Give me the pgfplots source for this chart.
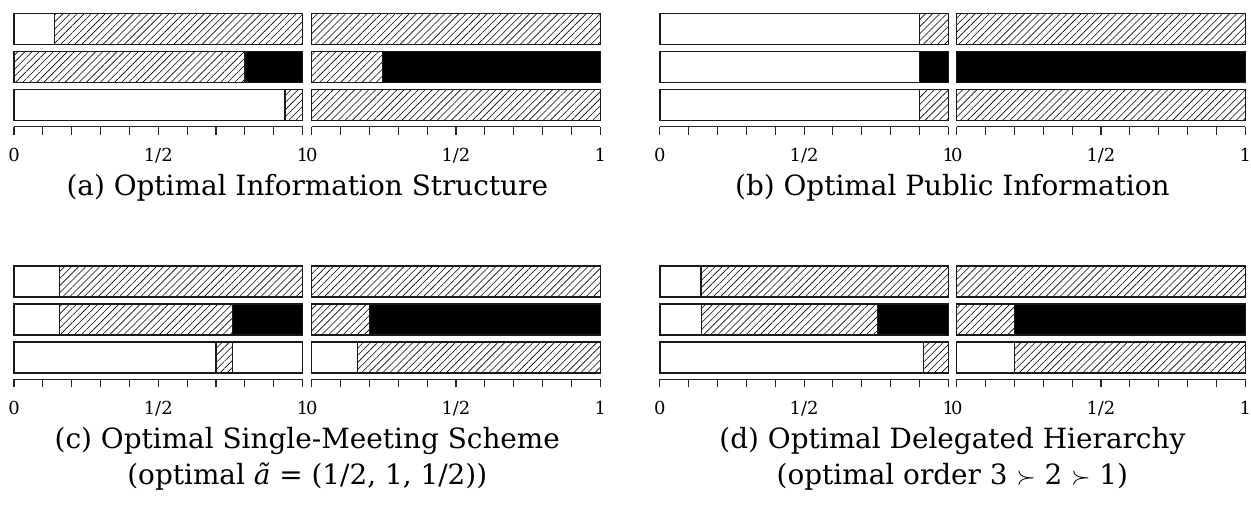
\documentclass[border=0pt]{standalone}
\usepackage{fontspec}
\setmainfont{DejaVu Serif}
\usepackage{pgfplots}
\pgfplotsset{compat=1.18}
\usetikzlibrary{patterns.meta}

\pgfplotsset{
  barax/.style={
    scale only axis, width=288.5bp, height=114bp,
    anchor=south west,
    xmin=0, xmax=1, ymin=0.43, ymax=3.43,
    xbar stacked, bar width=31bp,
    axis x line*=bottom, axis y line=none,
    xtick={0,0.5,1}, xticklabels={0,1/2,1},
    minor xtick={0.1,0.2,0.3,0.4,0.6,0.7,0.8,0.9},
    tick align=outside, major tick length=8bp, minor tick length=8bp,
    every tick/.style={black!85, line width=1.1bp},
    every minor tick/.style={black!85, line width=1.1bp},
    axis line style={black!85, line width=1.1bp},
    tick label style={font=\fontsize{18}{21}\selectfont, yshift=-10bp},
    clip=false,
  },
  segW/.style={draw=black!90, line width=1.4bp, fill=white},
  segH/.style={draw=black!90, line width=1.4bp, pattern={Lines[angle=45,distance=5bp,line width=0.6bp]}, pattern color=black},
  segB/.style={draw=black!90, line width=1.4bp, fill=black},
}

\newcommand{\barpanel}[6]{%
  \begin{axis}[barax, at={(#1,#2)}]
    \addplot[segW] coordinates {#3};
    \addplot[segH] coordinates {#4};
    \addplot[segB] coordinates {#5};
    \addplot[segW] coordinates {#6};
  \end{axis}}

\begin{document}
\begin{tikzpicture}[x=1bp,y=1bp]
\useasboundingbox (0,0) rectangle (1251,508);
% ---- (a)
\barpanel{14bp}{381.3bp}
  {(0.14,3) (0,2) (0.94,1)}
  {(0.86,3) (0.80,2) (0.06,1)}
  {(0,3) (0.20,2) (0,1)}
  {(0,3) (0,2) (0,1)}
\barpanel{311.7bp}{381.3bp}
  {(0,3) (0,2) (0,1)}
  {(1,3) (0.245,2) (1,1)}
  {(0,3) (0.755,2) (0,1)}
  {(0,3) (0,2) (0,1)}
% ---- (b)
\barpanel{659.8bp}{381.3bp}
  {(0.90,3) (0.90,2) (0.90,1)}
  {(0.10,3) (0,2) (0.10,1)}
  {(0,3) (0.10,2) (0,1)}
  {(0,3) (0,2) (0,1)}
\barpanel{956.7bp}{381.3bp}
  {(0,3) (0,2) (0,1)}
  {(1,3) (0,2) (1,1)}
  {(0,3) (1,2) (0,1)}
  {(0,3) (0,2) (0,1)}
% ---- (c)
\barpanel{14bp}{128.7bp}
  {(0.157,3) (0.157,2) (0.70,1)}
  {(0.843,3) (0.60,2) (0.057,1)}
  {(0,3) (0.243,2) (0,1)}
  {(0,3) (0,2) (0.243,1)}
\barpanel{311.7bp}{128.7bp}
  {(0,3) (0,2) (0.158,1)}
  {(1,3) (0.20,2) (0.842,1)}
  {(0,3) (0.80,2) (0,1)}
  {(0,3) (0,2) (0,1)}
% ---- (d)
\barpanel{659.8bp}{128.7bp}
  {(0.143,3) (0.145,2) (0.914,1)}
  {(0.857,3) (0.61,2) (0.086,1)}
  {(0,3) (0.245,2) (0,1)}
  {(0,3) (0,2) (0,1)}
\barpanel{956.7bp}{128.7bp}
  {(0,3) (0,2) (0.20,1)}
  {(1,3) (0.20,2) (0.80,1)}
  {(0,3) (0.80,2) (0,1)}
  {(0,3) (0,2) (0,1)}
% ---- captions
\begin{scope}[every node/.style={anchor=base, inner sep=0pt, font=\fontsize{28}{33}\selectfont}]
\node at (307.3,312) {(a) Optimal Information Structure};
\node at (952.4,312) {(b) Optimal Public Information};
\node at (307.3,59) {(c) Optimal Single-Meeting Scheme};
\node at (307.3,23) {(optimal \textit{ã} = (1/2, 1, 1/2))};
\node at (952.4,59) {(d) Optimal Delegated Hierarchy};
\node at (952.4,23) {(optimal order 3 $\succ$ 2 $\succ$ 1)};
\end{scope}
\end{tikzpicture}
\end{document}
